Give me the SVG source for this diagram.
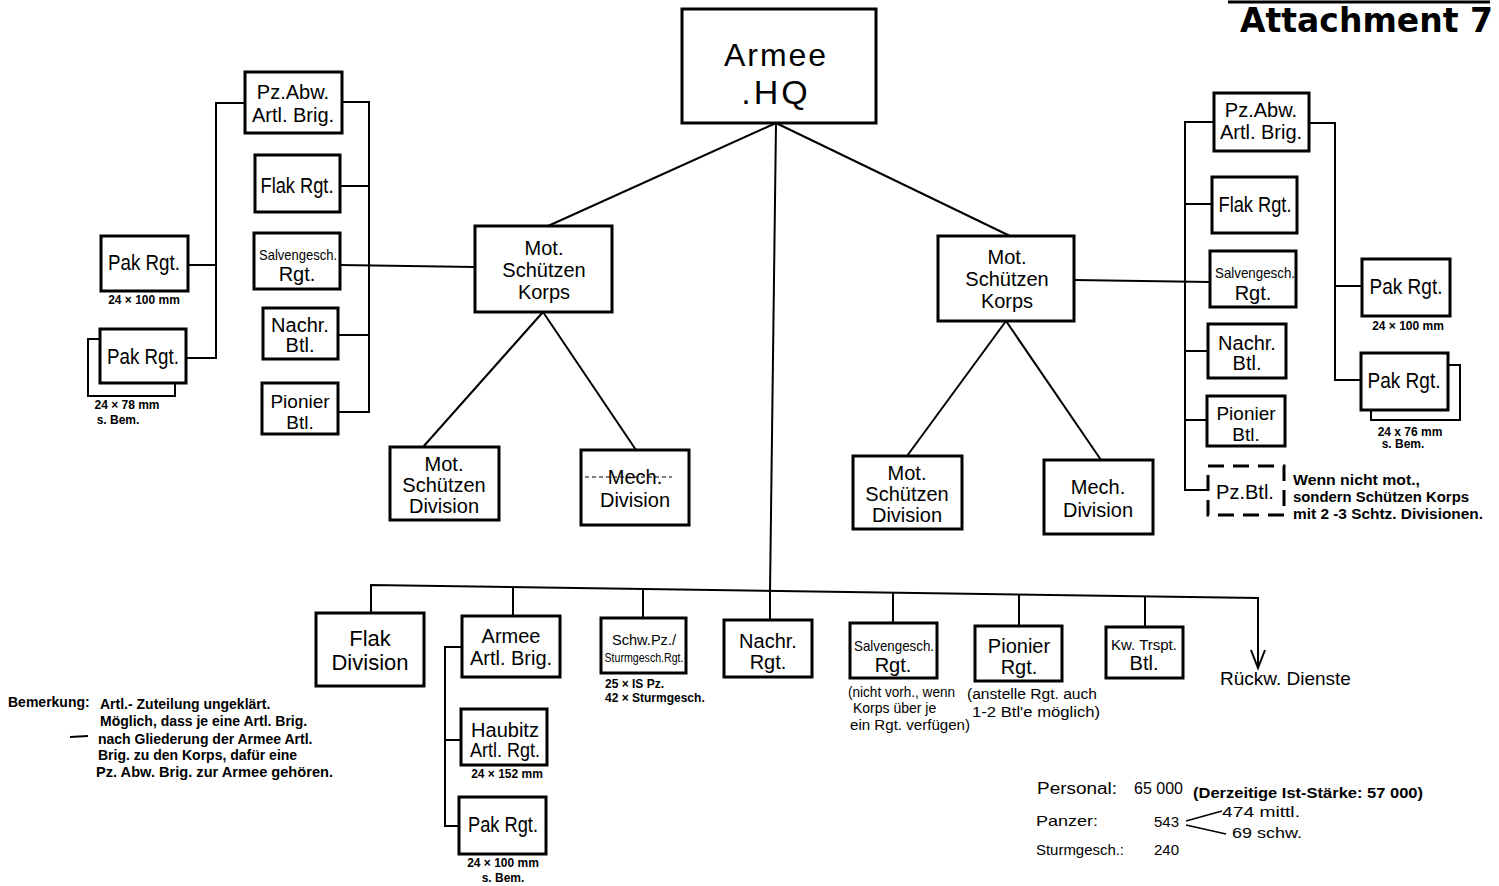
<svg xmlns="http://www.w3.org/2000/svg" width="1499" height="886" viewBox="0 0 1499 886">
<style>
.b{fill:#fff;stroke:#000;stroke-width:3}
.d{fill:#fff;stroke:#000;stroke-width:3;stroke-dasharray:16 9}
.c{fill:none;stroke:#000;stroke-width:2}
text{font-family:"Liberation Sans",Arial,sans-serif;fill:#000}
.t{font-size:20px;text-anchor:middle}
.L{font-size:22px;text-anchor:middle}
.s{font-size:15px;text-anchor:middle}
.n{font-size:12px;font-weight:bold;text-anchor:middle}
.m{font-size:14px;font-weight:bold}
.h{font-size:14px}
</style>
<rect width="1499" height="886" fill="#fff"/>
<g id="connectors">
<line class="c" x1="776" y1="123" x2="548" y2="226"/>
<line class="c" x1="776" y1="123" x2="1010" y2="236"/>
<line class="c" x1="776" y1="123" x2="770" y2="592"/>
<line class="c" x1="543" y1="312" x2="423" y2="447"/>
<line class="c" x1="543" y1="312" x2="636" y2="450"/>
<line class="c" x1="1006" y1="321" x2="907" y2="456"/>
<line class="c" x1="1006" y1="321" x2="1101" y2="460"/>
<polyline class="c" points="342,102 369,102 369,412 338,412"/>
<line class="c" x1="340" y1="186" x2="369" y2="186"/>
<line class="c" x1="340" y1="265" x2="475" y2="267"/>
<line class="c" x1="338" y1="335" x2="369" y2="335"/>
<polyline class="c" points="245,103 216,103 216,358 186,358"/>
<line class="c" x1="188" y1="265" x2="216" y2="265"/>
<polyline class="c" points="1214,122 1185,122 1185,490 1208,490"/>
<line class="c" x1="1212" y1="204" x2="1185" y2="204"/>
<line class="c" x1="1074" y1="280" x2="1210" y2="282"/>
<line class="c" x1="1208" y1="351" x2="1185" y2="351"/>
<line class="c" x1="1207" y1="420" x2="1185" y2="420"/>
<polyline class="c" points="1309,123 1335,123 1335,380 1361,380"/>
<line class="c" x1="1335" y1="286" x2="1362" y2="286"/>
<polyline class="c" points="371,613 371,585 1258,598 1258,666"/>
<polyline class="c" points="1251,650 1258,668 1265,650"/>
<line class="c" x1="513" y1="587" x2="513" y2="616"/>
<line class="c" x1="643" y1="589" x2="643" y2="618"/>
<line class="c" x1="770" y1="590" x2="770" y2="620"/>
<line class="c" x1="893" y1="592" x2="893" y2="623"/>
<line class="c" x1="1019" y1="594" x2="1019" y2="626"/>
<line class="c" x1="1145" y1="596" x2="1145" y2="627"/>
<polyline class="c" points="462,647 445,647 445,826 459,826"/>
<line class="c" x1="445" y1="740" x2="461" y2="740"/>
</g>
<g id="hq"><rect class="b" x="682" y="9" width="194" height="114"/><text x="776" y="66" style="font-size:32px;text-anchor:middle;letter-spacing:2px">Armee</text><text x="776" y="104" style="font-size:34px;text-anchor:middle;letter-spacing:3px">.HQ</text></g>
<g id="korps-left"><rect class="b" x="475" y="226" width="137" height="86"/><text class="t" x="544" y="255">Mot.</text><text class="t" x="544" y="277">Schützen</text><text class="t" x="544" y="299">Korps</text></g>
<g id="korps-right"><rect class="b" x="938" y="236" width="136" height="85"/><text class="t" x="1007" y="264">Mot.</text><text class="t" x="1007" y="286">Schützen</text><text class="t" x="1007" y="308">Korps</text></g>
<g id="div-l-mot"><rect class="b" x="390" y="447" width="109" height="73"/><text class="t" x="444" y="471">Mot.</text><text class="t" x="444" y="492">Schützen</text><text class="t" x="444" y="513">Division</text></g>
<g id="div-l-mech"><rect class="b" x="581" y="450" width="108" height="75"/><text class="t" x="635" y="484">Mech.</text><text class="t" x="635" y="507">Division</text><line x1="585" y1="477" x2="672" y2="477" stroke="#000" stroke-width="1.2" stroke-dasharray="4 3"/></g>
<g id="div-r-mot"><rect class="b" x="853" y="456" width="109" height="73"/><text class="t" x="907" y="480">Mot.</text><text class="t" x="907" y="501">Schützen</text><text class="t" x="907" y="522">Division</text></g>
<g id="div-r-mech"><rect class="b" x="1044" y="460" width="109" height="74"/><text class="t" x="1098" y="494">Mech.</text><text class="t" x="1098" y="517">Division</text></g>
<g id="l-pzabw"><rect class="b" x="245" y="72" width="97" height="61"/><text class="t" x="293" y="99">Pz.Abw.</text><text class="t" x="293" y="122">Artl. Brig.</text></g>
<g id="l-flak"><rect class="b" x="255" y="155" width="85" height="57"/><text class="L" x="297" y="193" textLength="73" lengthAdjust="spacingAndGlyphs">Flak Rgt.</text></g>
<g id="l-salv"><rect class="b" x="254" y="233" width="86" height="56"/><text class="s" x="298" y="260" textLength="78" lengthAdjust="spacingAndGlyphs">Salvengesch.</text><text class="t" x="297" y="281">Rgt.</text></g>
<g id="l-nachr"><rect class="b" x="263" y="308" width="75" height="51"/><text class="t" x="300" y="332">Nachr.</text><text class="t" x="300" y="352">Btl.</text></g>
<g id="l-pionier"><rect class="b" x="262" y="383" width="76" height="51"/><text class="t" x="300" y="408" style="font-size:19px">Pionier</text><text class="t" x="300" y="429" style="font-size:19px">Btl.</text></g>
<g id="l-pak1"><rect class="b" x="101" y="236" width="87" height="55"/><text class="L" x="144" y="270" textLength="72" lengthAdjust="spacingAndGlyphs">Pak Rgt.</text><text class="n" x="144" y="304">24 × 100 mm</text></g>
<g id="l-pak2"><rect fill="#fff" stroke="#000" stroke-width="2" x="88" y="339" width="87" height="57"/><rect class="b" x="100" y="329" width="86" height="54"/><text class="L" x="143" y="364" textLength="72" lengthAdjust="spacingAndGlyphs">Pak Rgt.</text><text class="n" x="127" y="409">24 × 78 mm</text><text class="n" x="118" y="424">s. Bem.</text></g>
<g id="r-pzabw"><rect class="b" x="1214" y="93" width="95" height="58"/><text class="t" x="1261" y="117">Pz.Abw.</text><text class="t" x="1261" y="139">Artl. Brig.</text></g>
<g id="r-flak"><rect class="b" x="1212" y="177" width="85" height="56"/><text class="L" x="1255" y="212" textLength="73" lengthAdjust="spacingAndGlyphs">Flak Rgt.</text></g>
<g id="r-salv"><rect class="b" x="1210" y="251" width="86" height="56"/><text class="s" x="1255" y="278" textLength="80" lengthAdjust="spacingAndGlyphs">Salvengesch.</text><text class="t" x="1253" y="300">Rgt.</text></g>
<g id="r-nachr"><rect class="b" x="1208" y="324" width="78" height="54"/><text class="t" x="1247" y="350">Nachr.</text><text class="t" x="1247" y="370">Btl.</text></g>
<g id="r-pionier"><rect class="b" x="1207" y="396" width="78" height="50"/><text class="t" x="1246" y="420" style="font-size:19px">Pionier</text><text class="t" x="1246" y="441" style="font-size:19px">Btl.</text></g>
<g id="r-pzbtl"><rect class="d" x="1208" y="466" width="76" height="49"/><text class="t" x="1245" y="499">Pz.Btl.</text><text class="m" x="1293" y="485" textLength="127" lengthAdjust="spacingAndGlyphs">Wenn nicht mot.,</text><text class="m" x="1293" y="502" textLength="176" lengthAdjust="spacingAndGlyphs">sondern Schützen Korps</text><text class="m" x="1293" y="519" textLength="190" lengthAdjust="spacingAndGlyphs">mit 2 -3 Schtz. Divisionen.</text></g>
<g id="r-pak1"><rect class="b" x="1362" y="259" width="88" height="57"/><text class="L" x="1406" y="294" textLength="73" lengthAdjust="spacingAndGlyphs">Pak Rgt.</text><text class="n" x="1408" y="330">24 × 100 mm</text></g>
<g id="r-pak2"><rect fill="#fff" stroke="#000" stroke-width="2" x="1371" y="365" width="89" height="55"/><rect class="b" x="1361" y="353" width="87" height="57"/><text class="L" x="1404" y="388" textLength="73" lengthAdjust="spacingAndGlyphs">Pak Rgt.</text><text class="n" x="1410" y="436">24 x 76 mm</text><text class="n" x="1403" y="448">s. Bem.</text></g>
<g id="b-flakdiv"><rect class="b" x="316" y="613" width="108" height="73"/><text class="L" x="370" y="646">Flak</text><text class="L" x="370" y="670">Division</text></g>
<g id="b-armeeartl"><rect class="b" x="462" y="616" width="98" height="61"/><text class="t" x="511" y="643">Armee</text><text class="t" x="511" y="665">Artl. Brig.</text></g>
<g id="b-schwpz"><rect class="b" x="601" y="618" width="85" height="55"/><text class="s" x="644" y="645" textLength="64" lengthAdjust="spacingAndGlyphs">Schw.Pz./</text><text x="644" y="662" style="font-size:12px;text-anchor:middle" textLength="79" lengthAdjust="spacingAndGlyphs">Sturmgesch.Rgt.</text><text class="n" x="605" y="688" style="text-anchor:start">25 × IS Pz.</text><text class="n" x="605" y="702" style="text-anchor:start">42 × Sturmgesch.</text></g>
<g id="b-nachr"><rect class="b" x="724" y="620" width="88" height="57"/><text class="t" x="768" y="648">Nachr.</text><text class="t" x="768" y="669">Rgt.</text></g>
<g id="b-salv"><rect class="b" x="850" y="623" width="87" height="55"/><text class="s" x="894" y="651" textLength="80" lengthAdjust="spacingAndGlyphs">Salvengesch.</text><text class="t" x="893" y="672">Rgt.</text><text class="h" x="848" y="697" textLength="107" lengthAdjust="spacingAndGlyphs">(nicht vorh., wenn</text><text class="h" x="853" y="713">Korps über je</text><text class="h" x="850" y="730" textLength="120" lengthAdjust="spacingAndGlyphs">ein Rgt. verfügen)</text></g>
<g id="b-pionier"><rect class="b" x="975" y="626" width="87" height="55"/><text class="t" x="1019" y="653">Pionier</text><text class="t" x="1019" y="674">Rgt.</text><text class="h" x="967" y="699" textLength="130" lengthAdjust="spacingAndGlyphs">(anstelle  Rgt. auch</text><text class="h" x="972" y="717" textLength="128" lengthAdjust="spacingAndGlyphs">1-2 Btl'e  möglich)</text></g>
<g id="b-kwtrspt"><rect class="b" x="1106" y="627" width="77" height="51"/><text class="s" x="1144" y="650">Kw. Trspt.</text><text class="t" x="1144" y="670">Btl.</text></g>
<g id="b-rueckw"><text x="1220" y="685" style="font-size:19px">Rückw. Dienste</text></g>
<g id="b-haubitz"><rect class="b" x="461" y="709" width="86" height="56"/><text class="t" x="505" y="737">Haubitz</text><text class="t" x="505" y="757" textLength="70" lengthAdjust="spacingAndGlyphs">Artl. Rgt.</text><text class="n" x="507" y="778">24 × 152 mm</text></g>
<g id="b-pak"><rect class="b" x="459" y="797" width="87" height="57"/><text class="L" x="503" y="832" textLength="70" lengthAdjust="spacingAndGlyphs">Pak Rgt.</text><text class="n" x="503" y="867">24 × 100 mm</text><text class="n" x="503" y="882">s. Bem.</text></g>
<g id="bemerkung"><text class="m" x="8" y="707">Bemerkung:</text><text class="m" x="100" y="709">Artl.- Zuteilung ungeklärt.</text><text class="m" x="100" y="726">Möglich, dass je eine Artl. Brig.</text><line x1="70" y1="737" x2="88" y2="736" stroke="#000" stroke-width="2"/><text class="m" x="98" y="744">nach Gliederung der Armee Artl.</text><text class="m" x="98" y="760">Brig. zu den Korps, dafür eine</text><text class="m" x="96" y="777" textLength="237" lengthAdjust="spacingAndGlyphs">Pz. Abw. Brig. zur Armee gehören.</text></g>
<g id="stats"><text x="1037" y="794" style="font-size:16px" textLength="80" lengthAdjust="spacingAndGlyphs">Personal:</text><text x="1134" y="794" style="font-size:16px">65 000</text><text x="1193" y="798" style="font-size:15px;font-weight:bold" textLength="230" lengthAdjust="spacingAndGlyphs">(Derzeitige Ist-Stärke: 57 000)</text><text x="1036" y="826" style="font-size:15px" textLength="62" lengthAdjust="spacingAndGlyphs">Panzer:</text><text x="1154" y="827" style="font-size:15px">543</text><line x1="1186" y1="821" x2="1222" y2="811" stroke="#000" stroke-width="1.5"/><line x1="1186" y1="825" x2="1226" y2="834" stroke="#000" stroke-width="1.5"/><text x="1222" y="817" style="font-size:14px" textLength="78" lengthAdjust="spacingAndGlyphs">474  mittl.</text><text x="1232" y="838" style="font-size:14px" textLength="70" lengthAdjust="spacingAndGlyphs">69  schw.</text><text x="1036" y="855" style="font-size:15px" textLength="88" lengthAdjust="spacingAndGlyphs">Sturmgesch.:</text><text x="1154" y="855" style="font-size:15px">240</text></g>
<g id="title"><line x1="1228" y1="2" x2="1490" y2="2" stroke="#000" stroke-width="3"/><text x="1240" y="32" style="font-family:'DejaVu Sans','Liberation Sans',sans-serif;font-size:33px;font-weight:bold">Attachment 7</text></g>
</svg>
